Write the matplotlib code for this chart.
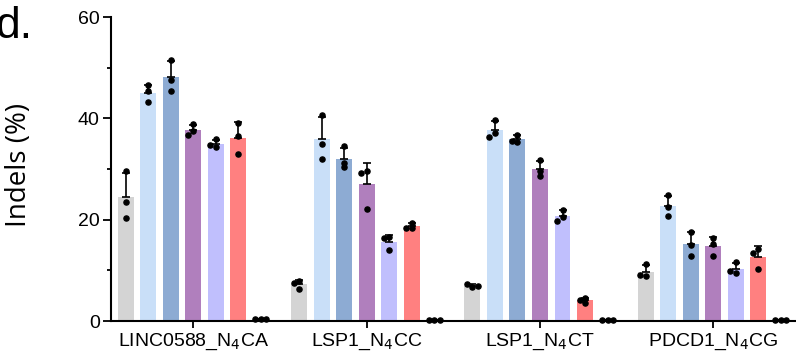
import matplotlib
matplotlib.use("Agg")
import matplotlib.pyplot as plt
import numpy as np

# replicate values (Indels %), 7 conditions per target
targets = ["LINC0588_N$_4$CA", "LSP1_N$_4$CC", "LSP1_N$_4$CT", "PDCD1_N$_4$CG"]
colors = ["#d4d4d4", "#c9dff8", "#8dabd3", "#b07fbd", "#c0bffd", "#ff8080", "#9a9a9a"]

linc = [[23.5, 20.4, 29.6], [43.2, 45.3, 46.5], [47.5, 45.3, 51.5], [37.5, 36.8, 38.8],
        [34.3, 34.8, 35.9], [36.5, 33.0, 39.1], [0.3, 0.4, 0.3]]
lsp1_cc = [[7.9, 7.6, 6.4], [35.0, 32.0, 40.7], [31.2, 30.3, 34.5], [29.6, 29.2, 22.2],
           [16.5, 14.0, 16.3], [18.3, 18.4, 19.4], [0.1, 0.2, 0.1]]
lsp1_ct = [[6.8, 7.3, 6.9], [37.1, 36.3, 39.7], [35.3, 35.6, 36.8], [29.6, 28.7, 31.7],
           [20.5, 19.7, 21.9], [4.6, 3.6, 4.2], [0.2, 0.2, 0.2]]
pdcd1 = [[8.8, 9.0, 11.3], [22.6, 20.7, 24.8], [15.1, 12.9, 17.6], [15.2, 12.8, 16.4],
         [9.5, 9.8, 11.6], [14.3, 13.5, 10.3], [0.2, 0.2, 0.2]]
groups = [linc, lsp1_cc, lsp1_ct, pdcd1]

fig = plt.figure(figsize=(7.96, 3.56), dpi=100)
ax = fig.add_axes([0.1394, 0.0983, 0.8606, 0.8539])

step = 0.13
width = 0.092
xlim = (-0.475, 3.477)
ylim = (0, 60)
ax.set_xlim(*xlim)
ax.set_ylim(*ylim)

# pixel scale for a simple swarm of the dots
px_x = 0.8606 * 796 / (xlim[1] - xlim[0])
px_y = 0.8539 * 356 / (ylim[1] - ylim[0])
spread = 5.5   # horizontal shift between dots, px
touch = 4.5    # dots closer than this get shifted, px

for gi, grp in enumerate(groups):
    for ci, vals in enumerate(grp):
        vals = np.array(vals)
        x = gi + (ci - 3) * step
        m = vals.mean()
        sd = vals.std(ddof=1)
        ax.bar(x, m, width=width, color=colors[ci], zorder=1)
        ax.errorbar(x, m, yerr=[[0], [sd]], fmt="none", ecolor="black",
                    elinewidth=1.2, capsize=3, capthick=1.2, zorder=2)
        placed = []
        for v in vals:
            for k in [0, -1, 1, -2, 2]:
                xo = k * spread
                if all(np.hypot(xo - px, (v - py) * px_y) >= touch for px, py in placed):
                    break
            placed.append((xo, v))
            ax.plot(x + xo / px_x, v, "o", color="black", ms=3.7, zorder=3, clip_on=False)

for s in ["top", "right"]:
    ax.spines[s].set_visible(False)
ax.spines["left"].set_linewidth(1.5)
ax.spines["bottom"].set_linewidth(1.5)

ax.set_xticks(range(len(targets)))
ax.set_xticklabels(targets, fontsize=14, family="Liberation Sans")
ax.set_yticks([0, 20, 40, 60])
ax.set_yticks([10, 30, 50], minor=True)
ax.tick_params(axis="y", which="major", length=6, width=1.3, labelsize=14, pad=2)
ax.tick_params(axis="y", which="minor", length=3, width=1.3)
ax.tick_params(axis="x", length=5, width=1.3, pad=3)
for lab in ax.get_yticklabels():
    lab.set_family("Liberation Sans")

ax.set_ylabel("Indels (%)", fontsize=20, family="Open Sans")
ax.yaxis.set_label_coords(-0.114, 0.513)
fig.text(-0.006, 1 - 38 / 356, "d.", fontsize=32, family="Liberation Sans",
         va="baseline", ha="left")

fig.savefig("out.png", dpi=100)
